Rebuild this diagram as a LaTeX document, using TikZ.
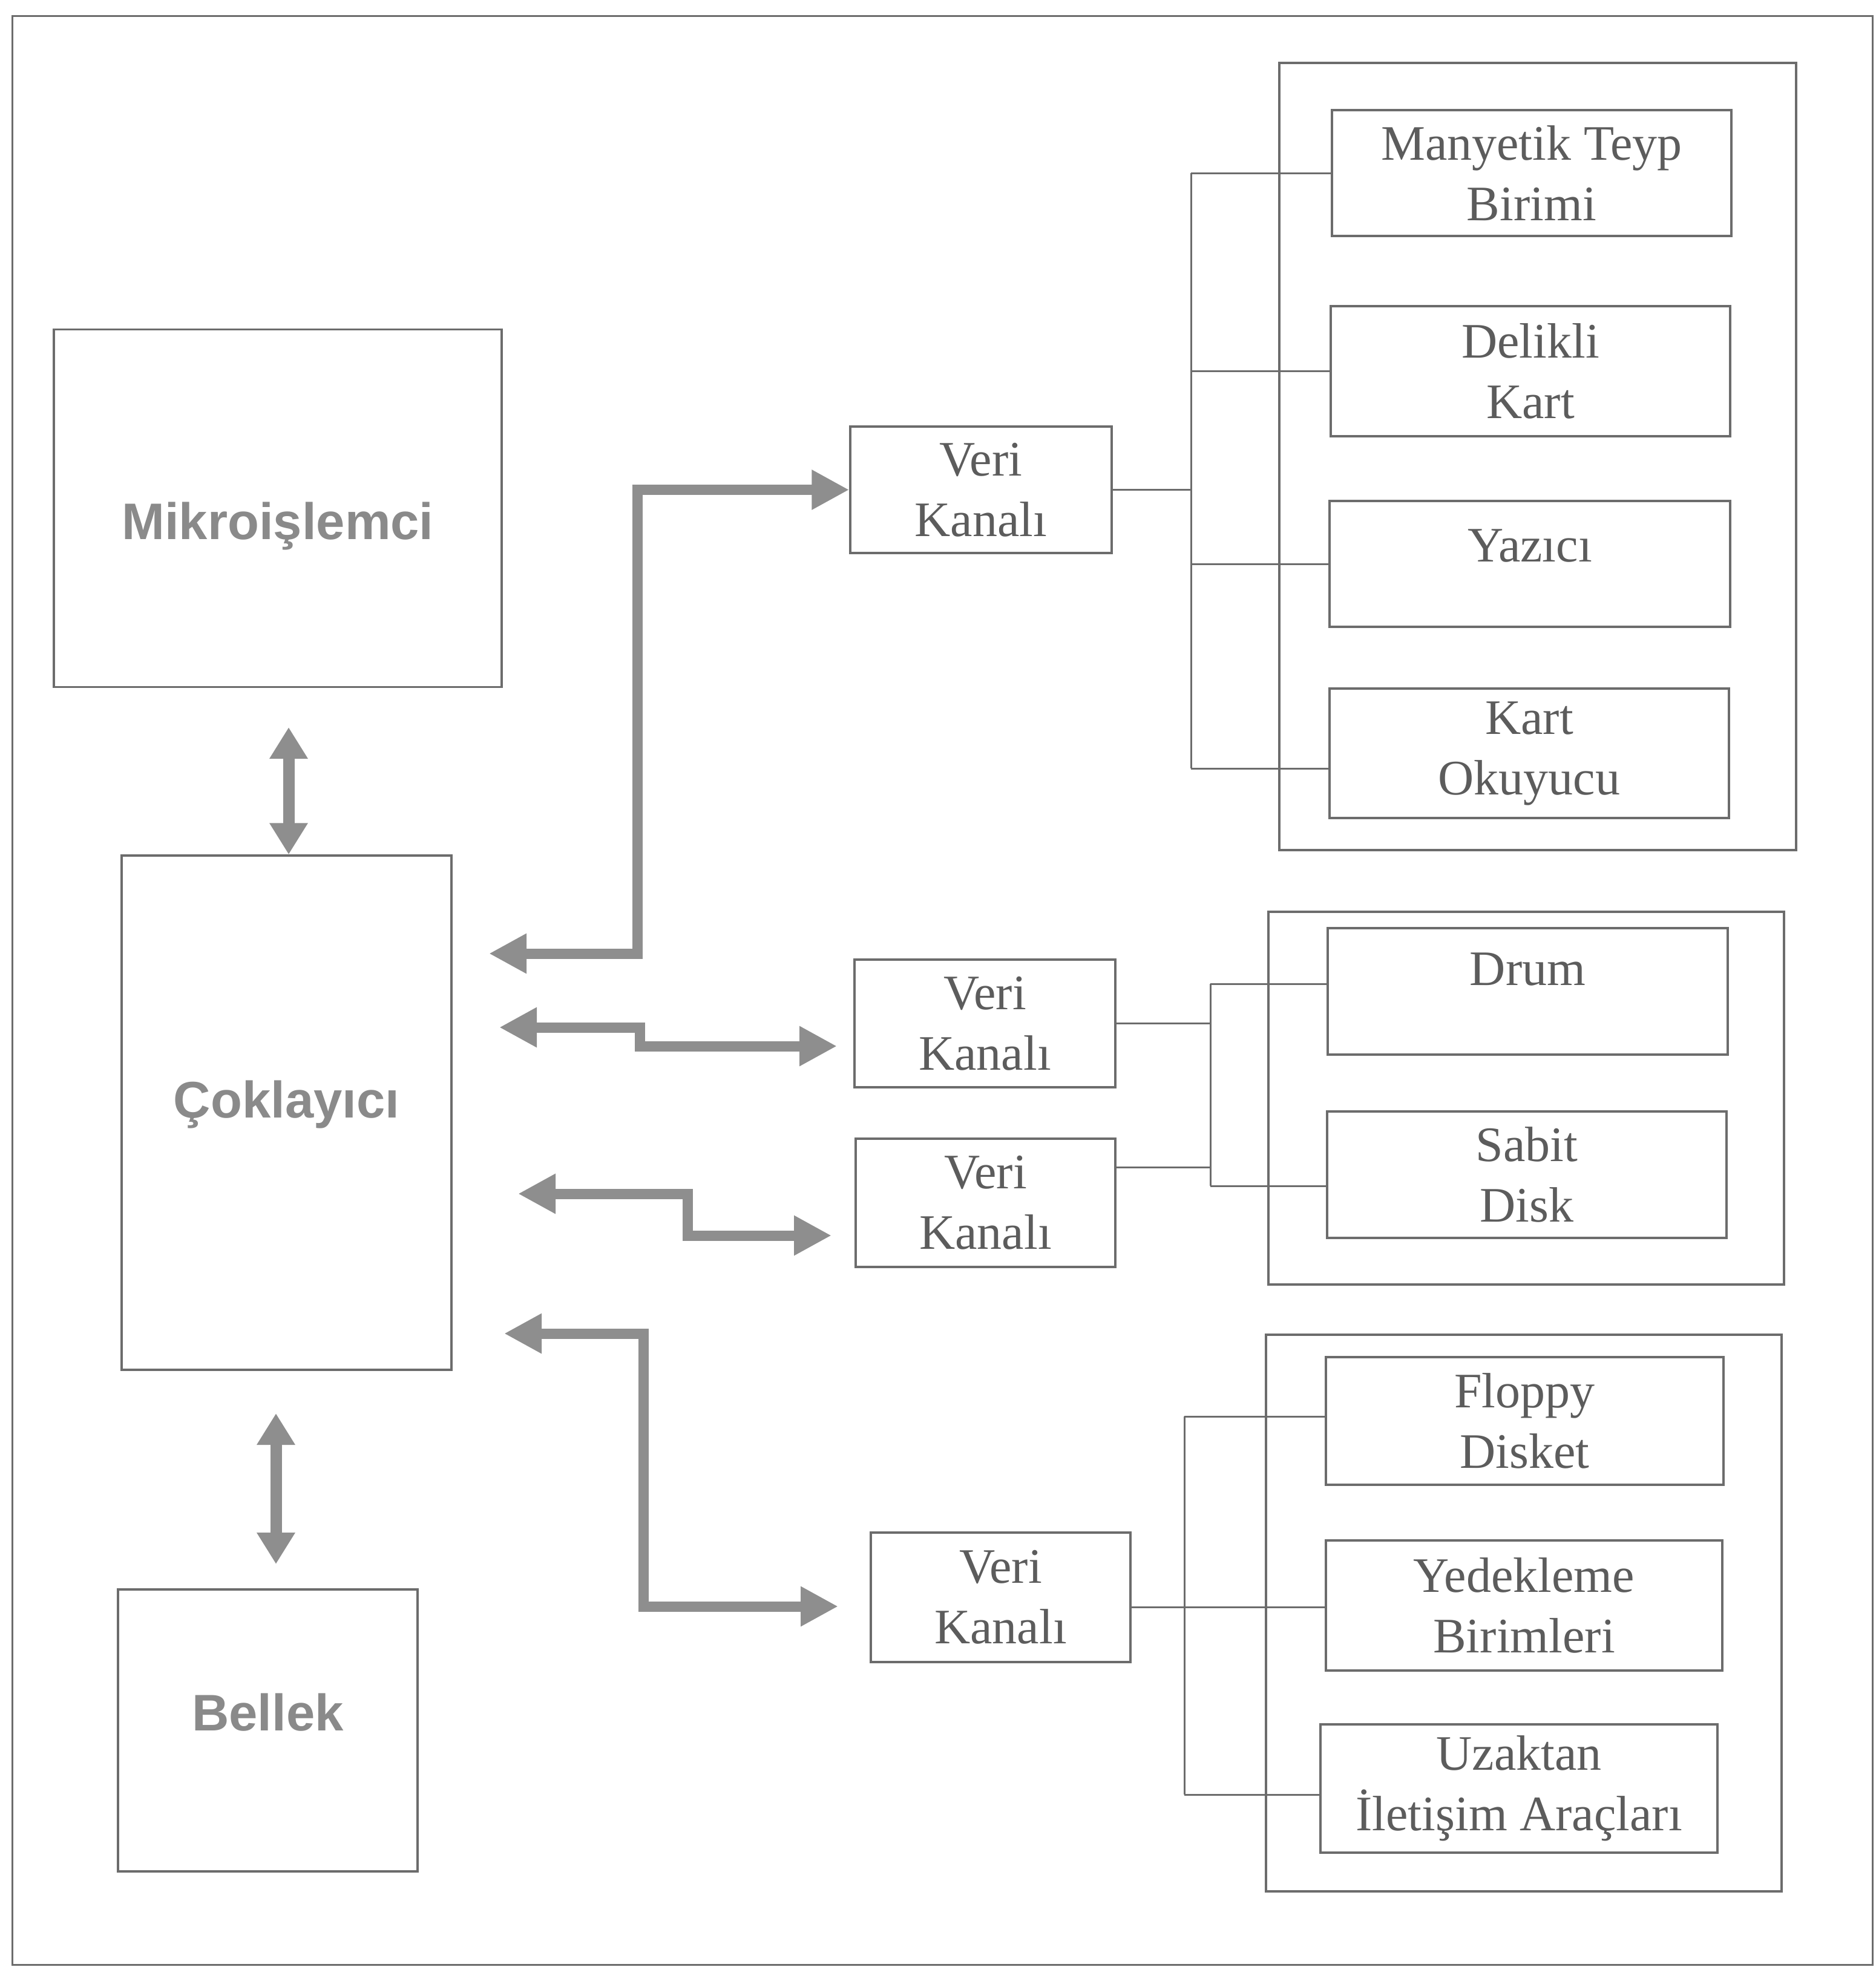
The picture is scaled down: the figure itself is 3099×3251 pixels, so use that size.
\documentclass[tikz,border=0pt]{standalone}
\usepackage{fontspec}
\setmainfont{Liberation Serif}
\setsansfont{Liberation Sans}
\usetikzlibrary{arrows.meta}
\definecolor{boxc}{HTML}{6C6C6C}
\definecolor{txtc}{HTML}{5C5C5C}
\definecolor{sansc}{HTML}{8A8A8A}
\definecolor{arrc}{HTML}{8E8E8E}
\begin{document}
\begin{tikzpicture}[x=1pt,y=-1pt,
  frame/.style={draw=boxc,line width=3pt},
  box/.style={draw=boxc,line width=3.5pt,inner sep=0pt,align=center,text=txtc,
    font=\fontsize{82}{100}\selectfont},
  bigbox/.style={draw=boxc,line width=3.5pt,inner sep=0pt},
  sanslbl/.style={text=sansc,font=\sffamily\bfseries\fontsize{85}{100}\selectfont,inner sep=0pt},
  serlbl/.style={text=txtc,font=\fontsize{82}{100}\selectfont,inner sep=0pt},
  conn/.style={draw=boxc,line width=3pt},
  bigarr/.style={draw=arrc,line width=17pt,line join=miter,
    {Triangle[length=62pt,width=62pt,fill=arrc]}-{Triangle[length=62pt,width=62pt,fill=arrc]}},
  vertarr/.style={draw=arrc,line width=19pt,line join=miter,
    {Triangle[length=52pt,width=60pt,fill=arrc]}-{Triangle[length=52pt,width=60pt,fill=arrc]}}
]
\useasboundingbox (0,0) rectangle (3099,3251);
\draw[frame] (20,27) rectangle (3094,3247);

% left column
\node[bigbox,minimum width=740pt,minimum height=591pt,
  label={[sanslbl,yshift=-30pt]center:Mikroişlemci}] (mik) at (459,840) {};
\node[bigbox,minimum width=545pt,minimum height=850pt,
  label={[sanslbl,yshift=13pt]center:Çoklayıcı}] (cok) at (473.5,1839) {};
\node[bigbox,minimum width=495pt,minimum height=466pt,
  label={[sanslbl,yshift=30pt]center:Bellek}] (bel) at (442.5,2860) {};

% data channels
\node[box,minimum width=432pt,minimum height=209pt] (vk1) at (1621,809.5) {Veri\\Kanalı};
\node[box,minimum width=431pt,minimum height=211pt] (vk2) at (1627.5,1691.5) {Veri\\Kanalı};
\node[box,minimum width=429pt,minimum height=212pt] (vk3) at (1628.5,1988) {Veri\\Kanalı};
\node[box,minimum width=429pt,minimum height=214pt] (vk4) at (1653.5,2640) {Veri\\Kanalı};

% containers
\node[bigbox,minimum width=854pt,minimum height=1301pt] (g1) at (2541,754.5) {};
\node[bigbox,minimum width=852pt,minimum height=616pt] (g2) at (2522,1815) {};
\node[bigbox,minimum width=852pt,minimum height=920pt] (g3) at (2518,2666) {};

% devices
\node[box,minimum width=660pt,minimum height=208pt] (mt) at (2531,286) {Manyetik Teyp\\Birimi};
\node[box,minimum width=660pt,minimum height=215pt] (dk) at (2529,613.5) {Delikli\\Kart};
\node[box,minimum width=662pt,minimum height=208pt,
  label={[serlbl,yshift=30pt]center:Yazıcı}] (yz) at (2528,932) {};
\node[box,minimum width=660pt,minimum height=214pt] (ko) at (2527,1245) {Kart\\Okuyucu};
\node[box,minimum width=661pt,minimum height=209pt,
  label={[serlbl,yshift=36pt]center:Drum}] (dr) at (2524.5,1638.5) {};
\node[box,minimum width=660pt,minimum height=209pt] (sd) at (2523,1941.5) {Sabit\\Disk};
\node[box,minimum width=657pt,minimum height=211pt] (fd) at (2519.5,2348.5) {Floppy\\Disket};
\node[box,minimum width=655pt,minimum height=215pt] (yb) at (2518.5,2653.5) {Yedekleme\\Birimleri};
\node[box,minimum width=656pt,minimum height=212pt] (ui) at (2510,2956) {Uzaktan\\İletişim Araçları};

% bracket connectors, group 1
\coordinate (b1t) at (1968,286);
\coordinate (b1b) at (1968,1270);
\draw[conn] (b1t) -- (b1b);
\draw[conn] (vk1.east) -- (vk1.east -| b1t);
\draw[conn] (b1t) -- (mt.west);
\draw[conn] (dk.west -| b1t) -- (dk.west);
\draw[conn] (yz.west -| b1t) -- (yz.west);
\draw[conn] (b1b) -- (b1b -| ko.west);

% group 2
\coordinate (b2t) at (2000,1626);
\coordinate (b2b) at (2000,1960);
\coordinate (v3c) at (1843,1929);
\draw[conn] (b2t) -- (b2b);
\draw[conn] (b2t) -- (b2t -| dr.west);
\draw[conn] (b2b) -- (b2b -| sd.west);
\draw[conn] (vk2.east) -- (vk2.east -| b2t);
\draw[conn] (v3c) -- (v3c -| b2t);

% group 3
\coordinate (b3t) at (1957,2341);
\coordinate (b3m) at (1957,2656);
\coordinate (b3b) at (1957,2966);
\draw[conn] (b3t) -- (b3b);
\draw[conn] (b3t) -- (b3t -| fd.west);
\draw[conn] (b3m) -- (b3m -| yb.west);
\draw[conn] (b3b) -- (b3b -| ui.west);
\draw[conn] (vk4.east |- b3m) -- (b3m);

% big arrows
\coordinate (a1L) at (808,1576);
\coordinate (k1) at (1053,0);
\draw[bigarr] (a1L) -| (k1 |- vk1.west) -- (vk1.west);

\coordinate (a2L) at (825,1698);
\coordinate (k2) at (1057,0);
\coordinate (a2R) at (1383,1729);
\draw[bigarr] (a2L) -- (a2L -| k2) |- (a2R);

\coordinate (a3L) at (856,1973);
\coordinate (k3) at (1136,0);
\coordinate (a3R) at (1374,2042);
\draw[bigarr] (a3L) -- (a3L -| k3) |- (a3R);

\coordinate (a4L) at (833,2204);
\coordinate (k4) at (1063,0);
\coordinate (a4R) at (1385,2655);
\draw[bigarr] (a4L) -- (a4L -| k4) |- (a4R);

% vertical arrows
\coordinate (v1t) at (477,1202);
\draw[vertarr] (v1t) -- (v1t |- cok.north);
\coordinate (v2t) at (456,2336);
\coordinate (v2b) at (456,2585);
\draw[vertarr] (v2t) -- (v2b);
\end{tikzpicture}
\end{document}
